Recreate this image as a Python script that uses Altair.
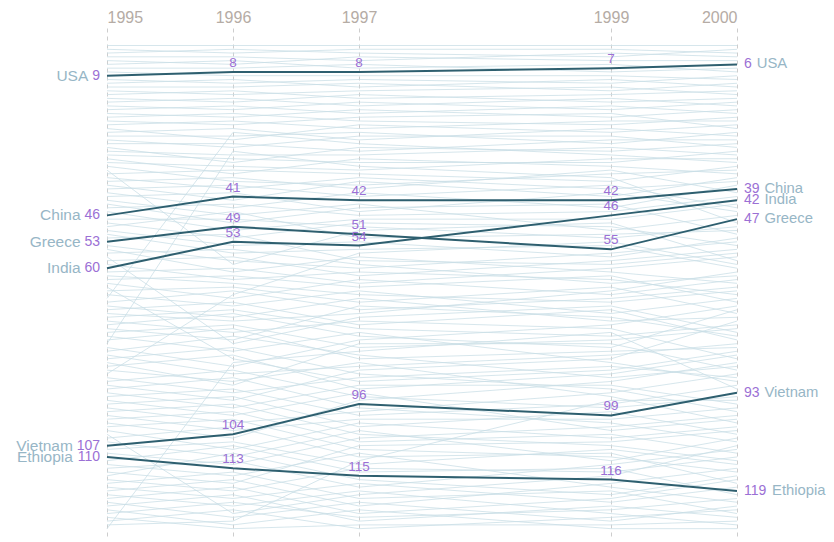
import altair as alt
import pandas as pd

years = [1995, 1996, 1997, 1999, 2000]

# Highlighted countries: rank in each year
hi_names = ["USA", "China", "Greece", "India", "Vietnam", "Ethiopia"]
usa_ranks = [9, 8, 8, 7, 6]
china_ranks = [46, 41, 42, 42, 39]
greece_ranks = [53, 49, 51, 55, 47]
india_ranks = [60, 53, 54, 46, 42]
vietnam_ranks = [107, 104, 96, 99, 93]
ethiopia_ranks = [110, 113, 115, 116, 119]

# Background countries: estimated rank per year (same country order in every list)
bg_1995 = [1, 2, 3, 4, 5, 6, 7, 8,
           10, 11, 12, 13, 14, 15, 16, 17, 18, 19,
           20, 21, 22, 23, 24, 25, 26, 27, 28, 29,
           30, 31, 32, 33, 34, 35, 36, 37, 38, 39,
           40, 41, 42, 43, 44, 45,
           47, 48, 49, 50, 51, 52,
           54, 55, 56, 57, 58, 59,
           61, 62, 63, 64, 65, 66, 67, 68, 69, 70,
           71, 72, 73, 74, 75, 76, 77, 78, 79, 80,
           81, 82, 83, 84, 85, 86, 87, 88, 89, 90,
           91, 92, 93, 94, 95, 96, 97, 98, 99, 100,
           101, 102, 103, 104, 105, 106,
           108, 109,
           111, 112, 113, 114, 115, 116, 117, 118, 119, 120,
           121, 122, 123, 124, 125, 126, 127, 128, 129]
bg_1996 = [1, 3, 2, 4, 6, 5, 7, 9,
           11, 10, 12, 14, 13, 16, 15, 18, 17, 20,
           19, 22, 21, 25, 23, 24, 27, 26, 30, 28,
           29, 34, 30, 36, 58, 33, 38, 35, 40, 37,
           43, 39, 45, 47, 42, 48,
           46, 51, 44, 52, 55, 50,
           57, 60, 54, 80, 56, 62,
           59, 63, 61, 66, 84, 64, 69, 23, 65, 72,
           68, 74, 70, 77, 71, 79, 75, 82, 76, 27,
           86, 78, 88, 81, 91, 83, 90, 65, 93, 87,
           95, 89, 97, 92, 99, 94, 101, 96, 103, 98,
           105, 100, 108, 125, 102, 110,
           106, 112,
           107, 115, 111, 117, 109, 119, 114, 121, 116, 123,
           118, 126, 120, 128, 122, 129, 124, 127, 85]
bg_1997 = [1, 2, 3, 5, 4, 7, 6, 9,
           10, 12, 11, 13, 15, 14, 17, 16, 19, 18,
           21, 20, 23, 22, 26, 24, 25, 28, 27, 30,
           31, 30, 33, 38, 50, 34, 35, 39, 37, 41,
           40, 45, 43, 44, 46, 47,
           49, 48, 52, 53, 55, 57,
           59, 56, 58, 72, 61, 60,
           63, 66, 64, 62, 90, 68, 65, 26, 70, 67,
           74, 71, 76, 73, 78, 69, 81, 77, 84, 31,
           79, 83, 86, 88, 80, 92, 85, 55, 89, 94,
           87, 97, 91, 99, 93, 102, 98, 104, 100, 106,
           95, 108, 101, 120, 110, 103,
           112, 105,
           114, 109, 118, 107, 116, 113, 121, 117, 123, 119,
           125, 122, 127, 124, 126, 128, 129, 111, 82]
bg_1999 = [1, 2, 4, 3, 5, 6, 8, 9,
           11, 10, 13, 12, 14, 16, 15, 18, 17, 20,
           22, 19, 21, 24, 23, 27, 25, 26, 29, 28,
           32, 33, 30, 35, 48, 37, 39, 34, 41, 38,
           44, 40, 50, 43, 45, 47,
           52, 49, 51, 56, 53, 58,
           54, 60, 63, 69, 57, 62,
           59, 68, 61, 66, 86, 64, 71, 29, 67, 73,
           70, 65, 77, 75, 80, 72, 78, 84, 81, 36,
           74, 88, 82, 91, 79, 87, 93, 52, 85, 96,
           83, 100, 90, 95, 102, 97, 92, 106, 98, 103,
           89, 109, 104, 114, 108, 110,
           107, 101,
           112, 117, 111, 105, 119, 113, 118, 121, 115, 124,
           120, 126, 122, 128, 123, 127, 125, 94, 76]
bg_2000 = [1, 3, 2, 4, 5, 8, 7, 10,
           9, 12, 11, 14, 13, 15, 17, 16, 19, 18,
           20, 23, 21, 22, 25, 24, 28, 26, 27, 31,
           29, 35, 31, 34, 57, 33, 37, 40, 36, 44,
           38, 45, 46, 50, 41, 43,
           48, 53, 49, 51, 58, 55,
           52, 62, 60, 75, 54, 65,
           56, 64, 67, 61, 80, 70, 66, 32, 63, 71,
           77, 59, 73, 82, 69, 76, 74, 88, 79, 47,
           68, 84, 78, 96, 85, 81, 99, 57, 87, 91,
           72, 105, 94, 89, 98, 102, 86, 110, 95, 108,
           83, 113, 100, 106, 116, 104,
           111, 97,
           118, 121, 107, 101, 114, 109, 124, 117, 112, 127,
           115, 122, 125, 129, 120, 126, 123, 92, 90]

N_COUNTRIES = 129

hi_ranks = [usa_ranks, china_ranks, greece_ranks, india_ranks, vietnam_ranks, ethiopia_ranks]
bg_cols = [bg_1995, bg_1996, bg_1997, bg_1999, bg_2000]

# highlighted rows
hi_rows = []
for name, rk in zip(hi_names, hi_ranks):
    for y, r in zip(years, rk):
        hi_rows.append({"country": name, "year": y, "rank": r})
hi_df = pd.DataFrame(hi_rows)

# background rows: resolve ties so every year is a clean ranking around the highlighted ones
bg_rows = []
for yi, y in enumerate(years):
    taken = {rk[yi] for rk in hi_ranks}
    free = [r for r in range(1, N_COUNTRIES + 1) if r not in taken]
    col = bg_cols[yi]
    order = sorted(range(len(col)), key=lambda i: (col[i], i))
    for slot, i in zip(free, order):
        bg_rows.append({"country": "bg%d" % i, "year": y, "rank": slot})
bg_df = pd.DataFrame(bg_rows)

PURPLE = "#9b70d5"
NAMEC = "#97b6c6"
LINE_HI = "#2e5f6f"
LINE_BG = "#c9dee6"
FONT = "Liberation Sans"

x_enc = alt.X(
    "year:Q",
    scale=alt.Scale(domain=[1995, 2000], nice=False, zero=False),
    axis=alt.Axis(
        orient="top", values=years, format="d", grid=True,
        gridDash=[4, 4], gridColor="#cdcdcd", gridWidth=1,
        domain=False, ticks=False, labelFontSize=16, labelColor="#b5aca5",
        labelFont=FONT, labelPadding=3, title=None,
    ),
)
y_enc = alt.Y(
    "rank:Q",
    scale=alt.Scale(domain=[-3.64, 132], reverse=True, nice=False, zero=False),
    axis=None,
)

bg = alt.Chart(bg_df).mark_line(strokeWidth=0.8, color=LINE_BG, opacity=0.95).encode(
    x=x_enc, y=y_enc, detail="country:N"
)
hi = alt.Chart(hi_df).mark_line(strokeWidth=2, color=LINE_HI).encode(
    x=x_enc, y=y_enc, detail="country:N"
)

mid = alt.Chart(hi_df).transform_filter(
    "datum.year > 1995 && datum.year < 2000"
).mark_text(dy=-9, fontSize=13.5, color=PURPLE, font=FONT, align="center", baseline="middle").encode(
    x=x_enc, y=y_enc, text="rank:Q"
)

left_num = alt.Chart(hi_df).transform_filter("datum.year == 1995").mark_text(
    dx=-7, fontSize=14, color=PURPLE, font=FONT, align="right", baseline="middle"
).encode(x=x_enc, y=y_enc, text="rank:Q")

right_num = alt.Chart(hi_df).transform_filter("datum.year == 2000").mark_text(
    dx=7, fontSize=14, color=PURPLE, font=FONT, align="left", baseline="middle"
).encode(x=x_enc, y=y_enc, text="rank:Q")

layers = [bg, hi, mid, left_num, right_num]
DIGIT = 7.7
for name, rk in zip(hi_names, hi_ranks):
    nd_l = len(str(rk[0]))
    nd_r = len(str(rk[-1]))
    layers.append(
        alt.Chart(hi_df).transform_filter(
            "datum.year == 1995 && datum.country == '%s'" % name
        ).mark_text(
            dx=-(7 + nd_l * DIGIT + 4), fontSize=15.5, color=NAMEC, font=FONT,
            align="right", baseline="middle"
        ).encode(x=x_enc, y=y_enc, text="country:N")
    )
    layers.append(
        alt.Chart(hi_df).transform_filter(
            "datum.year == 2000 && datum.country == '%s'" % name
        ).mark_text(
            dx=7 + nd_r * DIGIT + 5, fontSize=14.8, color=NAMEC, font=FONT,
            align="left", baseline="middle"
        ).encode(x=x_enc, y=y_enc, text="country:N")
    )

chart = alt.layer(*layers).properties(
    width=630, height=512,
    autosize=alt.AutoSizeParams(type="none"),
    padding={"left": 99, "top": 20, "right": 89, "bottom": 2},
).configure_view(stroke=None)

chart.save("out.html", embed_options={"renderer": "svg", "actions": False})
